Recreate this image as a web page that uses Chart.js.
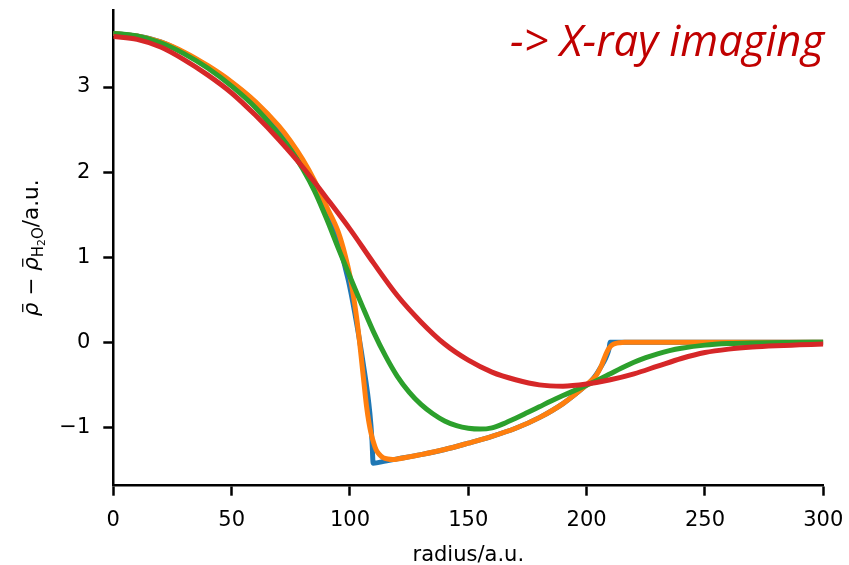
<!DOCTYPE html>
<html>
<head>
<meta charset="utf-8">
<script src="https://cdn.jsdelivr.net/npm/chart.js@4.4.0/dist/chart.umd.min.js"></script>
<style>
  html, body { margin: 0; padding: 0; background: #ffffff; }
  #wrap { width: 849px; height: 565px; }
</style>
</head>
<body>
<div id="wrap"><canvas id="c" width="849" height="565"></canvas></div>
<script>
// ---- data ----
const blueR   = [0,10,20,30,40,50,60,70,75,80,85,90,95,99.3,102,105.6,108.4,109.3,109.8,115,120,130,140,150,160,170,180,190,200,202,204,206,208,209,209.5,209.9,220,240,260,280,300];
const blueRho = [3.63,3.60,3.53,3.40,3.24,3.05,2.82,2.52,2.34,2.12,1.86,1.55,1.18,0.73,0.35,-0.25,-0.83,-1.15,-1.42,-1.395,-1.37,-1.32,-1.26,-1.185,-1.105,-1.01,-0.885,-0.72,-0.50,-0.45,-0.38,-0.29,-0.19,-0.12,-0.07,0,0,0,0,0,0];

const orangeR   = [0,10,20,30,40,50,60,70,75,80,85,90,95,98,100,102,103,104,105,106,107,108,109,110,111,112,113,114,116,118,120,130,140,150,160,170,180,190,200,202,204,206,207,208,209,210,211,212,214,216,240,260,280,300];
const orangeRho = [3.63,3.60,3.53,3.41,3.25,3.06,2.83,2.54,2.36,2.15,1.90,1.60,1.30,1.02,0.78,0.45,0.25,0.02,-0.24,-0.50,-0.75,-0.94,-1.08,-1.18,-1.26,-1.305,-1.335,-1.355,-1.372,-1.378,-1.372,-1.32,-1.26,-1.185,-1.105,-1.01,-0.885,-0.72,-0.50,-0.45,-0.39,-0.29,-0.22,-0.15,-0.09,-0.05,-0.028,-0.015,-0.005,0,0,0,0,0];

const greenR   = [0,10,20,30,40,50,60,70,75,80,85,90,95,100,105,110,115,120,125,130,135,140,145,150,155,160,165,170,175,180,185,190,195,200,205,210,215,220,225,230,235,240,250,260,270,285,300];
const greenRho = [3.63,3.60,3.52,3.39,3.22,3.01,2.76,2.44,2.26,2.04,1.78,1.46,1.11,0.77,0.44,0.12,-0.16,-0.40,-0.585,-0.73,-0.84,-0.925,-0.98,-1.01,-1.02,-1.005,-0.955,-0.893,-0.826,-0.758,-0.69,-0.625,-0.565,-0.505,-0.44,-0.37,-0.30,-0.235,-0.18,-0.135,-0.098,-0.07,-0.033,-0.015,-0.007,-0.002,0];

const redR   = [0,10,20,30,40,50,60,70,80,90,100,110,120,130,140,150,160,170,180,190,200,210,220,230,240,250,260,270,280,290,300];
const redRho = [3.595,3.56,3.47,3.32,3.14,2.93,2.67,2.38,2.06,1.70,1.33,0.93,0.55,0.24,-0.02,-0.21,-0.35,-0.44,-0.50,-0.515,-0.49,-0.44,-0.37,-0.28,-0.19,-0.12,-0.08,-0.055,-0.04,-0.03,-0.02];

const xTicks = [0,50,100,150,200,250,300];
const yTicks = [-1,0,1,2,3];
const annotationText = '-> X-ray imaging';
const xTitle = 'radius/a.u.';

// ---- helpers ----
const pts = (xs, ys) => xs.map((x, i) => ({x: x, y: ys[i]}));
const FONT = 'DejaVu Sans';
const FS = 21;

const layoutPlugin = {
  id: 'extraText',
  afterDraw(chart) {
    const ctx = chart.ctx;
    const area = chart.chartArea;
    ctx.save();
    // annotation
    ctx.fillStyle = '#c00000';
    ctx.font = 'italic 43.5px "Open Sans"';
    ctx.textAlign = 'right';
    ctx.textBaseline = 'alphabetic';
    ctx.fillText(annotationText, 824, 56);
    // x title
    ctx.fillStyle = '#000';
    ctx.font = FS + 'px "' + FONT + '"';
    ctx.textAlign = 'center';
    ctx.fillText(xTitle, (area.left + area.right) / 2, 561);
    ctx.restore();

    // y title (rotated, with subscript)
    ctx.save();
    ctx.translate(38, (area.top + area.bottom) / 2);
    ctx.rotate(-Math.PI / 2);
    ctx.fillStyle = '#000';
    ctx.textBaseline = 'alphabetic';
    ctx.textAlign = 'left';
    const F = 21.5;
    const pieces = [
      {t: 'ρ', f: 'italic ' + F + 'px "' + FONT + '"', dy: 0, bar: true},
      {t: ' − ', f: F + 'px "' + FONT + '"', dy: 0},
      {t: 'ρ', f: 'italic ' + F + 'px "' + FONT + '"', dy: 0, bar: true},
      {t: 'H', f: (F * 0.7) + 'px "' + FONT + '"', dy: F * 0.22},
      {t: '2', f: (F * 0.5) + 'px "' + FONT + '"', dy: F * 0.34},
      {t: 'O', f: (F * 0.7) + 'px "' + FONT + '"', dy: F * 0.22},
      {t: '/a.u.', f: F + 'px "' + FONT + '"', dy: 0}
    ];
    let total = 0;
    pieces.forEach(p => { ctx.font = p.f; p.w = ctx.measureText(p.t).width; total += p.w; });
    let x = -total / 2;
    pieces.forEach(p => {
      ctx.font = p.f;
      ctx.fillText(p.t, x, p.dy);
      if (p.bar) {
        ctx.fillRect(x + p.w * 0.3, -F * 0.74, p.w * 0.6, F * 0.06);
      }
      x += p.w;
    });
    ctx.restore();
  }
};

const baseDs = {
  fill: false,
  pointRadius: 0,
  borderWidth: 5,
  cubicInterpolationMode: 'monotone',
  borderCapStyle: 'butt',
  borderJoinStyle: 'round'
};

new Chart(document.getElementById('c'), {
  type: 'line',
  data: {
    datasets: [
      Object.assign({}, baseDs, {label: 'a', data: pts(blueR, blueRho), borderColor: '#1f77b4', order: 4}),
      Object.assign({}, baseDs, {label: 'b', data: pts(orangeR, orangeRho), borderColor: '#ff7f0e', order: 3}),
      Object.assign({}, baseDs, {label: 'c', data: pts(greenR, greenRho), borderColor: '#2ca02c', order: 2}),
      Object.assign({}, baseDs, {label: 'd', data: pts(redR, redRho), borderColor: '#d62728', order: 1})
    ]
  },
  options: {
    responsive: false,
    animation: false,
    events: [],
    layout: { padding: { left: 0, right: 25.7, top: 10, bottom: 0 } },
    plugins: { legend: { display: false }, tooltip: { enabled: false }, title: { display: false } },
    scales: {
      x: {
        type: 'linear',
        min: 0, max: 300,
        afterBuildTicks(s) { s.ticks = xTicks.map(v => ({value: v})); },
        afterFit(s) { s.height = 565 - 485.7; s.paddingLeft = 0; s.paddingRight = 0; },
        grid: { display: true, drawOnChartArea: false, drawTicks: true, tickLength: 10, tickWidth: 2.5, tickColor: '#000' },
        border: { display: true, color: '#000', width: 2.5 },
        ticks: { color: '#000', font: { family: FONT, size: FS }, padding: 12, maxRotation: 0, autoSkip: false }
      },
      y: {
        type: 'linear',
        min: -1.685, max: 3.905,
        afterBuildTicks(s) { s.ticks = yTicks.map(v => ({value: v})); },
        afterFit(s) { s.width = 113.3; s.paddingTop = 0; s.paddingBottom = 0; },
        grid: { display: true, drawOnChartArea: false, drawTicks: true, tickLength: 10, tickWidth: 2.5, tickColor: '#000' },
        border: { display: true, color: '#000', width: 2.5 },
        ticks: { color: '#000', font: { family: FONT, size: FS }, padding: 13, autoSkip: false,
                 callback: v => (v < 0 ? '\u2212' + Math.abs(v) : String(v)) }
      }
    }
  },
  plugins: [layoutPlugin]
});
</script>
</body>
</html>
